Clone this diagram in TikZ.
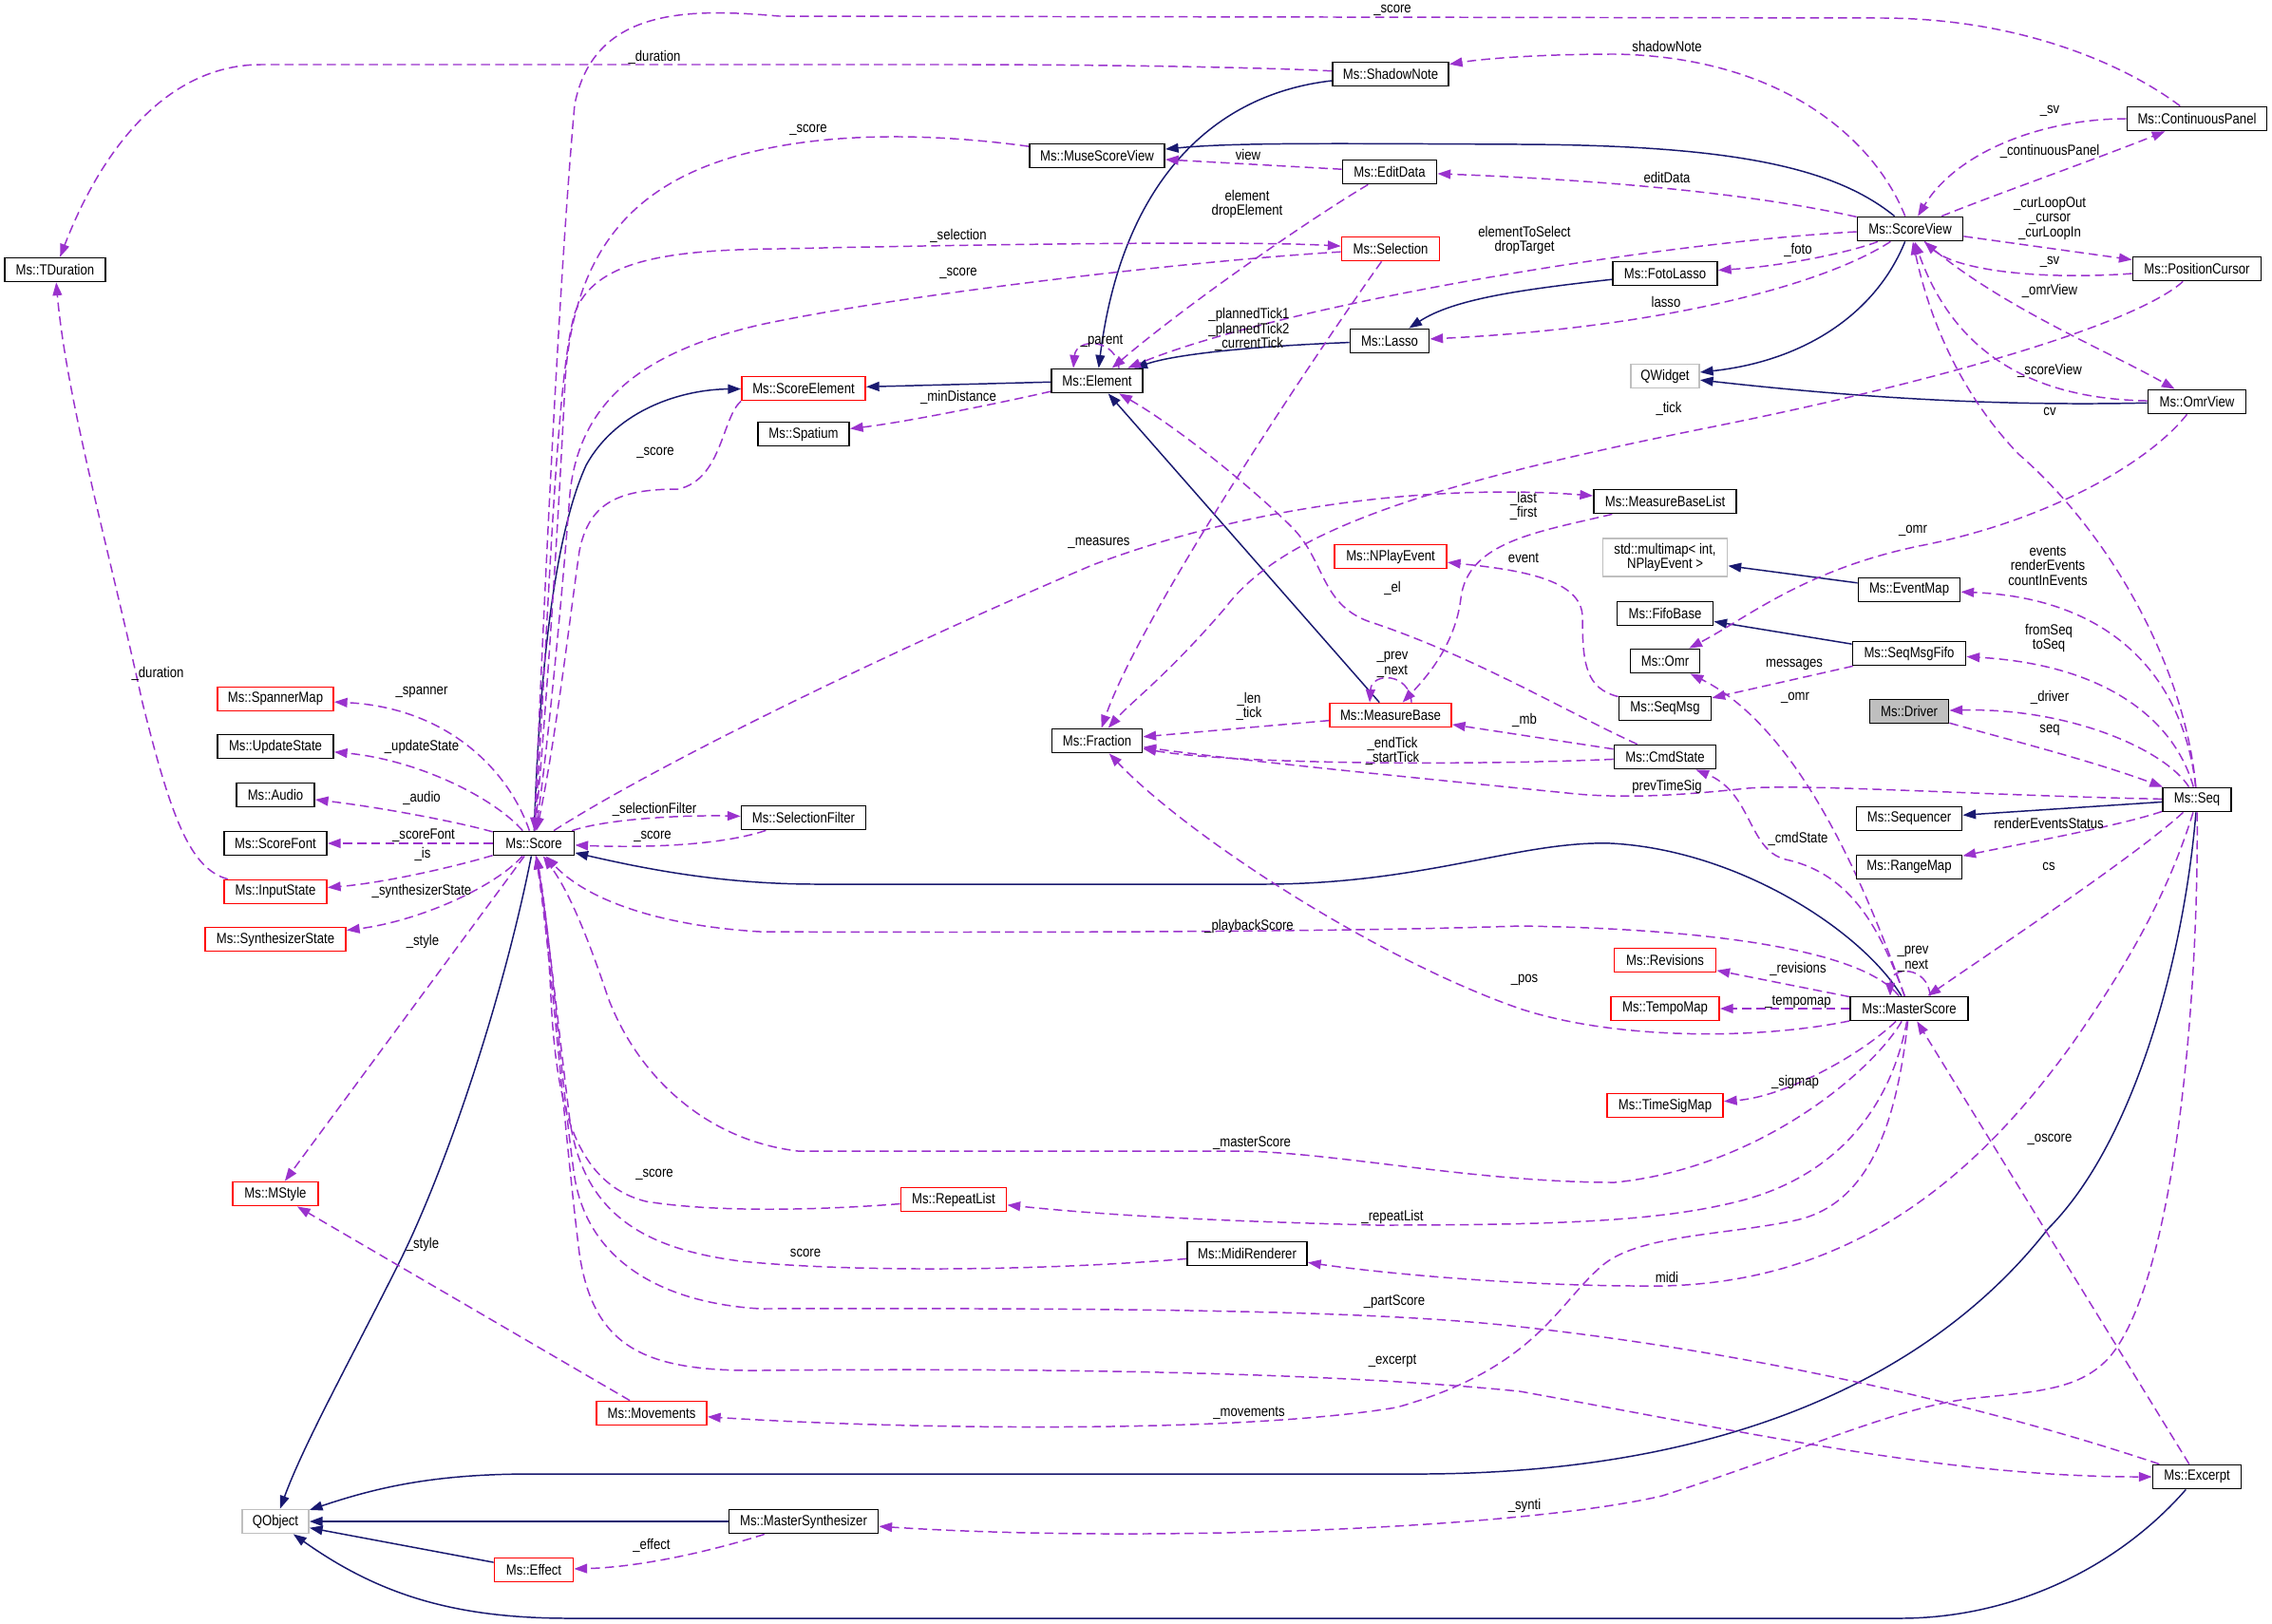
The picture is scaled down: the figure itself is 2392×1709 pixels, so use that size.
\documentclass[tikz,border=0pt]{standalone}
\usepackage{fontspec}
\setmainfont{Liberation Sans}[FakeStretch=0.85]
\usetikzlibrary{arrows.meta,calc}
\definecolor{navyc}{HTML}{191970}
\definecolor{purp}{HTML}{9A32CD}
\definecolor{grayb}{HTML}{BFBFBF}
\definecolor{redb}{HTML}{FF0000}
\pgfdeclarelayer{bg}
\pgfdeclarelayer{edges}
\pgfsetlayers{bg,edges,main}
\tikzset{
 cls/.style={draw=black, fill=white, line width=0.5pt, inner sep=0pt, minimum height=0.25cm, font=\fontsize{4.4}{4.4}\selectfont, text=black},
 redcls/.style={cls, draw=redb},
 graycls/.style={cls, draw=grayb},
 inh/.style={draw=navyc, line width=0.42pt, -{Triangle[length=3.9pt,width=2.8pt]}},
 usee/.style={draw=purp, line width=0.42pt, dash pattern=on 2.7pt off 1.5pt, -{Triangle[length=3.9pt,width=2.8pt]}},
 lbl/.style={inner sep=0pt, align=center, font=\fontsize{4.4}{4.4}\selectfont, text=black},
}
\begin{document}
\begin{tikzpicture}[x=0.01cm,y=-0.01cm]
\useasboundingbox (0,0) rectangle (2392,1709);
\begin{pgfonlayer}{bg}
\fill[white] (0,0) rectangle (2392,1709);
\end{pgfonlayer}
% nodes
\node[cls, minimum width=1.06cm] (tdur) at (58,284) {Ms::TDuration};
\node[cls, minimum width=1.22cm] (shadow) at (1464,78) {Ms::ShadowNote};
\node[cls, minimum width=1.42cm] (msv) at (1155,164) {Ms::MuseScoreView};
\node[cls, minimum width=0.99cm] (editdata) at (1463,181) {Ms::EditData};
\node[redcls, minimum width=1.03cm] (selection) at (1464,262) {Ms::Selection};
\node[cls, minimum width=0.83cm] (lasso) at (1463,359) {Ms::Lasso};
\node[cls, minimum width=0.96cm] (element) at (1155,401) {Ms::Element};
\node[redcls, minimum width=1.30cm] (scoreel) at (846,409) {Ms::ScoreElement};
\node[cls, minimum width=0.96cm] (spatium) at (846,457) {Ms::Spatium};
\node[cls, minimum width=1.47cm] (cpanel) at (2313,125) {Ms::ContinuousPanel};
\node[cls, minimum width=1.11cm] (sv) at (2011,241) {Ms::ScoreView};
\node[cls, minimum width=1.35cm] (pcursor) at (2313,283) {Ms::PositionCursor};
\node[cls, minimum width=1.10cm] (fotolasso) at (1753,288) {Ms::FotoLasso};
\node[graycls, minimum width=0.72cm] (qwidget) at (1753,396) {QWidget};
\node[cls, minimum width=1.03cm] (omrview) at (2313,423) {Ms::OmrView};
\node[redcls, minimum width=1.22cm] (spannermap) at (290,736) {Ms::SpannerMap};
\node[cls, minimum width=1.22cm] (updatestate) at (290,786) {Ms::UpdateState};
\node[cls, minimum width=0.82cm] (audio) at (290,837) {Ms::Audio};
\node[cls, minimum width=1.08cm] (scorefont) at (290,888) {Ms::ScoreFont};
\node[cls, minimum width=0.85cm] (score) at (562,888) {Ms::Score};
\node[redcls, minimum width=1.08cm] (inputstate) at (290,939) {Ms::InputState};
\node[redcls, minimum width=1.48cm] (synthstate) at (290,989) {Ms::SynthesizerState};
\node[cls, minimum width=1.31cm] (selfilter) at (846,861) {Ms::SelectionFilter};
\node[redcls, minimum width=1.18cm] (nplay) at (1464,586) {Ms::NPlayEvent};
\node[redcls, minimum width=1.28cm] (mbase) at (1464,753) {Ms::MeasureBase};
\node[cls, minimum width=0.95cm] (fraction) at (1155,780) {Ms::Fraction};
\node[cls, minimum width=1.50cm] (mbl) at (1753,528) {Ms::MeasureBaseList};
\node[graycls, minimum width=1.31cm, minimum height=0.40cm, align=center] (multimap) at (1753,587) {std::multimap< int,\\NPlayEvent >};
\node[cls, minimum width=1.07cm] (eventmap) at (2010,621) {Ms::EventMap};
\node[cls, minimum width=1.01cm] (fifobase) at (1753,646) {Ms::FifoBase};
\node[cls, minimum width=1.19cm] (seqmsgfifo) at (2010,688) {Ms::SeqMsgFifo};
\node[cls, minimum width=0.73cm] (omr) at (1753,696) {Ms::Omr};
\node[cls, minimum width=0.97cm] (seqmsg) at (1753,746) {Ms::SeqMsg};
\node[cls, fill=grayb, minimum width=0.83cm] (driver) at (2010,749) {Ms::Driver};
\node[cls, minimum width=1.07cm] (cmdstate) at (1753,797) {Ms::CmdState};
\node[cls, minimum width=0.72cm] (seq) at (2313,842) {Ms::Seq};
\node[cls, minimum width=1.11cm] (sequencer) at (2010,862) {Ms::Sequencer};
\node[cls, minimum width=1.11cm] (rangemap) at (2010,913) {Ms::RangeMap};
\node[redcls, minimum width=1.07cm] (revisions) at (1753,1011) {Ms::Revisions};
\node[redcls, minimum width=1.14cm] (tempomap) at (1753,1062) {Ms::TempoMap};
\node[cls, minimum width=1.24cm] (mscore) at (2010,1062) {Ms::MasterScore};
\node[redcls, minimum width=1.22cm] (tsmap) at (1753,1164) {Ms::TimeSigMap};
\node[redcls, minimum width=0.90cm] (mstyle) at (290,1257) {Ms::MStyle};
\node[redcls, minimum width=1.11cm] (repeatlist) at (1004,1263) {Ms::RepeatList};
\node[cls, minimum width=1.26cm] (midir) at (1313,1320) {Ms::MidiRenderer};
\node[redcls, minimum width=1.16cm] (movements) at (686,1488) {Ms::Movements};
\node[cls, minimum width=0.93cm] (excerpt) at (2313,1555) {Ms::Excerpt};
\node[graycls, minimum width=0.70cm] (qobject) at (290,1602) {QObject};
\node[cls, minimum width=1.57cm] (msynth) at (846,1602) {Ms::MasterSynthesizer};
\node[redcls, minimum width=0.83cm] (effect) at (562,1653) {Ms::Effect};
% labels
\node[lbl] (l1) at (1466,11) {\_score};
\node[lbl] (l2) at (689,60) {\_duration};
\node[lbl] (l3) at (1755,49) {shadowNote};
\node[lbl] (l4) at (851,137) {\_score};
\node[lbl] (l5) at (1314,163) {view};
\node[lbl] (l6) at (1755,187) {editData};
\node[lbl] (l7) at (1313,215) {element\\dropElement};
\node[lbl] (l8) at (1009,248) {\_selection};
\node[lbl] (l9) at (1009,288) {\_score};
\node[lbl] (l10) at (1605,253) {elementToSelect\\dropTarget};
\node[lbl] (l11) at (1315,347) {\_plannedTick1\\\_plannedTick2\\\_currentTick};
\node[lbl] (l12) at (1160,359) {\_parent};
\node[lbl] (l13) at (1009,418) {\_minDistance};
\node[lbl] (l14) at (690,477) {\_score};
\node[lbl] (l15) at (1157,572) {\_measures};
\node[lbl] (l16) at (1604,533) {\_last\\\_first};
\node[lbl] (l17) at (1604,588) {event};
\node[lbl] (l18) at (2014,559) {\_omr};
\node[lbl] (l19) at (1466,619) {\_el};
\node[lbl] (l20) at (1466,700) {\_prev\\\_next};
\node[lbl] (l21) at (1315,744) {\_len\\\_tick};
\node[lbl] (l22) at (1605,758) {\_mb};
\node[lbl] (l23) at (1466,791) {\_endTick\\\_startTick};
\node[lbl] (l24) at (1755,828) {prevTimeSig};
\node[lbl] (l25) at (1889,700) {messages};
\node[lbl] (l26) at (1890,735) {\_omr};
\node[lbl] (l27) at (1893,883) {\_cmdState};
\node[lbl] (l28) at (2158,734) {\_driver};
\node[lbl] (l29) at (2158,769) {seq};
\node[lbl] (l30) at (2157,672) {fromSeq\\toSeq};
\node[lbl] (l31) at (2156,596) {events\\renderEvents\\countInEvents};
\node[lbl] (l32) at (2158,433) {cv};
\node[lbl] (l33) at (2157,867) {renderEventsStatus};
\node[lbl] (l34) at (2157,912) {cs};
\node[lbl] (l35) at (1755,1345) {midi};
\node[lbl] (l36) at (1605,1585) {\_synti};
\node[lbl] (l37) at (2158,159) {\_continuousPanel};
\node[lbl] (l38) at (2158,117) {\_sv};
\node[lbl] (l39) at (2158,230) {\_curLoopOut\\\_cursor\\\_curLoopIn};
\node[lbl] (l40) at (2158,276) {\_sv};
\node[lbl] (l41) at (1893,263) {\_foto};
\node[lbl] (l42) at (1754,318) {lasso};
\node[lbl] (l43) at (2158,306) {\_omrView};
\node[lbl] (l44) at (2158,390) {\_scoreView};
\node[lbl] (l45) at (1757,430) {\_tick};
\node[lbl] (l46) at (1890,1139) {\_sigmap};
\node[lbl] (l47) at (1893,1020) {\_revisions};
\node[lbl] (l48) at (1893,1055) {\_tempomap};
\node[lbl] (l49) at (2014,1010) {\_prev\\\_next};
\node[lbl] (l50) at (1605,1032) {\_pos};
\node[lbl] (l51) at (1315,975) {\_playbackScore};
\node[lbl] (l52) at (1318,1204) {\_masterScore};
\node[lbl] (l53) at (1466,1281) {\_repeatList};
\node[lbl] (l54) at (689,1237) {\_score};
\node[lbl] (l55) at (848,1319) {score};
\node[lbl] (l56) at (1468,1371) {\_partScore};
\node[lbl] (l57) at (1466,1433) {\_excerpt};
\node[lbl] (l58) at (1315,1488) {\_movements};
\node[lbl] (l59) at (2158,1200) {\_oscore};
\node[lbl] (l60) at (445,991) {\_style};
\node[lbl] (l61) at (445,1310) {\_style};
\node[lbl] (l62) at (444,729) {\_spanner};
\node[lbl] (l63) at (444,786) {\_updateState};
\node[lbl] (l64) at (444,840) {\_audio};
\node[lbl] (l65) at (446,880) {\_scoreFont};
\node[lbl] (l66) at (445,899) {\_is};
\node[lbl] (l67) at (444,938) {\_synthesizerState};
\node[lbl] (l68) at (689,852) {\_selectionFilter};
\node[lbl] (l69) at (687,881) {\_score};
\node[lbl] (l70) at (166,709) {\_duration};
\node[lbl] (l71) at (686,1627) {\_effect};
\begin{pgfonlayer}{edges}
% inheritance
\draw[inh] (shadow) .. controls (1270,100) and (1180,200) .. (element);
\draw[inh] (sv) .. controls (1930,175) and (1820,153) .. (1600,152) .. controls (1400,151) and (1300,150) .. (msv);
\draw[inh] (fotolasso) .. controls (1600,305) and (1530,315) .. (lasso);
\draw[inh] (lasso) .. controls (1330,364) and (1240,372) .. (element);
\draw[inh] (element) -- (scoreel);
\draw[inh] (score) .. controls (568,700) and (585,560) .. (617,490) .. controls (650,430) and (720,410) .. (scoreel);
\draw[inh] (mbase) -- (element);
\draw[inh] (sv) .. controls (1975,330) and (1900,380) .. (qwidget);
\draw[inh] (omrview) .. controls (2100,428) and (1950,418) .. (qwidget);
\draw[inh] (eventmap) -- (multimap);
\draw[inh] (seqmsgfifo) -- (fifobase);
\draw[inh] (seq) -- (sequencer);
\draw[inh] (mscore) .. controls (1960,980) and (1830,895) .. (1696,888) .. controls (1600,885) and (1500,931) .. (1330,931) -- (860,931) .. controls (760,931) and (680,915) .. (score);
\draw[inh] (score) .. controls (530,1050) and (470,1230) .. (420,1330) .. controls (370,1430) and (320,1520) .. (qobject);
\draw[inh] (seq) .. controls (2300,1000) and (2250,1200) .. (2156,1294) .. controls (2050,1430) and (1850,1550) .. (1500,1552) -- (560,1552) .. controls (460,1552) and (400,1565) .. (qobject);
\draw[inh] (msynth) -- (qobject);
\draw[inh] (effect) -- (qobject);
\draw[inh] (excerpt) .. controls (2230,1650) and (2120,1704) .. (2000,1704) -- (600,1704) .. controls (480,1704) and (400,1680) .. (qobject);
% usage
\draw[usee] (cpanel) .. controls (2240,70) and (2130,19) .. (1980,19) -- (820,17) .. controls (720,8) and (625,10) .. (605,110) .. controls (588,300) and (572,650) .. (score);
\draw[usee] (shadow) .. controls (1350,72) and (1200,68) .. (1000,68) -- (275,68) .. controls (180,68) and (110,150) .. (tdur);
\draw[usee] (sv) .. controls (1975,150) and (1880,60) .. (1700,57) .. controls (1620,57) and (1560,62) .. (shadow);
\draw[usee] (msv) .. controls (980,140) and (880,140) .. (800,158) .. controls (680,185) and (605,250) .. (595,400) .. controls (588,550) and (575,750) .. (score);
\draw[usee] (editdata) -- (msv);
\draw[usee] (sv) .. controls (1850,205) and (1700,190) .. (editdata);
\draw[usee] (editdata) .. controls (1380,230) and (1250,320) .. (element);
\draw[usee] (score) .. controls (578,650) and (585,400) .. (605,330) .. controls (625,275) and (700,263) .. (820,262) .. controls (1000,258) and (1300,253) .. (selection);
\draw[usee] (selection) .. controls (1250,275) and (950,310) .. (800,342) .. controls (680,370) and (610,420) .. (600,520) .. controls (590,650) and (575,800) .. (score);
\draw[usee] (sv) .. controls (1750,255) and (1350,320) .. (element);
\draw[usee] (selection) .. controls (1380,380) and (1200,650) .. (fraction);
\draw[usee] ($(element.north)+(23,0)$) .. controls ($(element.north)+(20,-32)$) and ($(element.north)+(-22,-32)$) .. ($(element.north)+(-25,0)$);
\draw[usee] (element) .. controls (1050,425) and (950,445) .. (spatium);
\draw[usee] (scoreel.south west) .. controls (760,440) and (760,505) .. (714,515) .. controls (650,515) and (620,530) .. (610,580) .. controls (600,650) and (585,780) .. (score);
\draw[usee] (score) .. controls (700,800) and (950,680) .. (1150,595) .. controls (1350,520) and (1550,512) .. (mbl);
\draw[usee] (mbl) .. controls (1620,560) and (1545,570) .. (1538,630) .. controls (1532,680) and (1500,715) .. (mbase);
\draw[usee] (seqmsg) .. controls (1670,725) and (1666,700) .. (1666,650) .. controls (1666,610) and (1600,600) .. (nplay);
\draw[usee] (omrview) .. controls (2260,490) and (2150,550) .. (2020,575) .. controls (1900,600) and (1840,650) .. (omr);
\draw[usee] (cmdstate) .. controls (1650,750) and (1550,690) .. (1440,654) .. controls (1390,635) and (1395,590) .. (1360,555) .. controls (1320,515) and (1240,450) .. (element);
\draw[usee] ($(mbase.north)+(22,0)$) .. controls ($(mbase.north)+(20,-32)$) and ($(mbase.north)+(-20,-32)$) .. ($(mbase.north)+(-22,0)$);
\draw[usee] (mbase) -- (fraction);
\draw[usee] (cmdstate) -- (mbase);
\draw[usee] (cmdstate) .. controls (1550,806) and (1300,805) .. (fraction);
\draw[usee] (seq) .. controls (2100,838) and (1900,825) .. (1840,830) .. controls (1800,834) and (1720,843) .. (1650,835) .. controls (1450,815) and (1300,800) .. (fraction);
\draw[usee] (seqmsgfifo) -- (seqmsg);
\draw[usee] (mscore) .. controls (1970,950) and (1900,770) .. (omr);
\draw[usee] (mscore) .. controls (1980,980) and (1950,920) .. (1880,905) .. controls (1840,895) and (1845,835) .. (cmdstate);
\draw[usee] (seq) .. controls (2280,790) and (2180,745) .. (driver);
\draw[usee] (driver) .. controls (2100,775) and (2200,800) .. (seq);
\draw[usee] (seq) .. controls (2290,760) and (2220,700) .. (seqmsgfifo);
\draw[usee] (seq) .. controls (2300,720) and (2230,630) .. (eventmap);
\draw[usee] (seq) .. controls (2300,700) and (2220,560) .. (2125,478) .. controls (2060,410) and (2030,330) .. (sv);
\draw[usee] (seq) .. controls (2230,870) and (2120,890) .. (rangemap);
\draw[usee] (seq) .. controls (2250,900) and (2100,1000) .. (mscore);
\draw[usee] (seq) .. controls (2280,950) and (2230,1030) .. (2181,1100) .. controls (2080,1240) and (1950,1350) .. (1750,1354) .. controls (1600,1355) and (1450,1340) .. (midir);
\draw[usee] (seq) .. controls (2315,1050) and (2290,1350) .. (2220,1430) .. controls (2190,1462) and (2150,1465) .. (2080,1472) .. controls (2000,1480) and (1900,1527) .. (1750,1575) .. controls (1600,1610) and (1200,1625) .. (msynth);
\draw[usee] (sv) .. controls (2100,205) and (2200,170) .. (cpanel);
\draw[usee] (cpanel) .. controls (2150,125) and (2060,160) .. (sv);
\draw[usee] (sv) -- (pcursor);
\draw[usee] (pcursor) .. controls (2150,295) and (2060,285) .. (sv);
\draw[usee] (sv) .. controls (1950,265) and (1880,280) .. (fotolasso);
\draw[usee] (sv) .. controls (1920,300) and (1750,345) .. (lasso);
\draw[usee] (sv) .. controls (2100,320) and (2220,370) .. (omrview);
\draw[usee] (omrview) .. controls (2150,420) and (2060,380) .. (sv);
\draw[usee] (pcursor) .. controls (2250,340) and (2050,400) .. (1800,450) .. controls (1500,510) and (1350,560) .. (1290,640) .. controls (1230,710) and (1190,740) .. (fraction);
\draw[usee] (mscore) .. controls (1960,1110) and (1880,1155) .. (tsmap);
\draw[usee] (mscore) -- (revisions);
\draw[usee] (mscore) -- (tempomap);
\draw[usee] ($(mscore.north)+(22,0)$) .. controls ($(mscore.north)+(20,-32)$) and ($(mscore.north)+(-20,-32)$) .. ($(mscore.north)+(-20,0)$);
\draw[usee] (mscore) .. controls (1850,1095) and (1700,1095) .. (1600,1062) .. controls (1450,1010) and (1250,880) .. (fraction);
\draw[usee] (mscore) .. controls (1960,1000) and (1800,978) .. (1600,975) .. controls (1400,982) and (1000,982) .. (800,981) .. controls (700,975) and (620,950) .. (score);
\draw[usee] (mscore) .. controls (1970,1130) and (1850,1230) .. (1700,1245) .. controls (1550,1245) and (1400,1212) .. (1300,1212) -- (840,1212) .. controls (740,1200) and (670,1130) .. (640,1050) .. controls (620,990) and (600,940) .. (score);
\draw[usee] (mscore) .. controls (1990,1170) and (1930,1240) .. (1830,1265) .. controls (1750,1285) and (1650,1290) .. (1450,1290) .. controls (1250,1285) and (1150,1278) .. (repeatlist);
\draw[usee] (mscore) .. controls (1995,1200) and (1960,1270) .. (1890,1285) .. controls (1820,1300) and (1730,1300) .. (1690,1330) .. controls (1640,1370) and (1620,1440) .. (1470,1482) .. controls (1300,1510) and (950,1505) .. (movements);
\draw[usee] (repeatlist) .. controls (880,1273) and (760,1278) .. (680,1265) .. controls (600,1245) and (585,1150) .. (580,1050) .. controls (577,980) and (570,930) .. (score);
\draw[usee] (midir) .. controls (1100,1338) and (900,1340) .. (780,1328) .. controls (680,1315) and (615,1280) .. (600,1180) .. controls (590,1100) and (575,960) .. (score);
\draw[usee] (excerpt) .. controls (2150,1500) and (1900,1430) .. (1600,1397) .. controls (1450,1380) and (1200,1377) .. (800,1378) .. controls (700,1372) and (620,1330) .. (605,1240) .. controls (592,1150) and (578,970) .. (score);
\draw[usee] (score) .. controls (580,1000) and (595,1200) .. (610,1320) .. controls (625,1420) and (680,1444) .. (800,1443) .. controls (1100,1440) and (1400,1445) .. (1600,1465) .. controls (1850,1510) and (2050,1555) .. (excerpt);
\draw[usee] (excerpt) -- (mscore);
\draw[usee] (score) -- (mstyle);
\draw[usee] (movements) -- (mstyle);
\draw[usee] (score) .. controls (535,810) and (470,745) .. (spannermap);
\draw[usee] (score) .. controls (520,840) and (440,800) .. (updatestate);
\draw[usee] (score) .. controls (480,865) and (400,850) .. (audio);
\draw[usee] (score) -- (scorefont);
\draw[usee] (score) .. controls (470,915) and (400,930) .. (inputstate);
\draw[usee] (score) .. controls (520,935) and (440,970) .. (synthstate);
\draw[usee] (score) .. controls (640,862) and (720,858) .. (selfilter);
\draw[usee] (selfilter) .. controls (760,890) and (680,893) .. (score);
\draw[usee] (inputstate) .. controls (200,915) and (180,860) .. (150,740) .. controls (115,580) and (70,420) .. (tdur);
\draw[usee] (msynth) .. controls (760,1630) and (680,1650) .. (effect);
\end{pgfonlayer}
\end{tikzpicture}
\end{document}
